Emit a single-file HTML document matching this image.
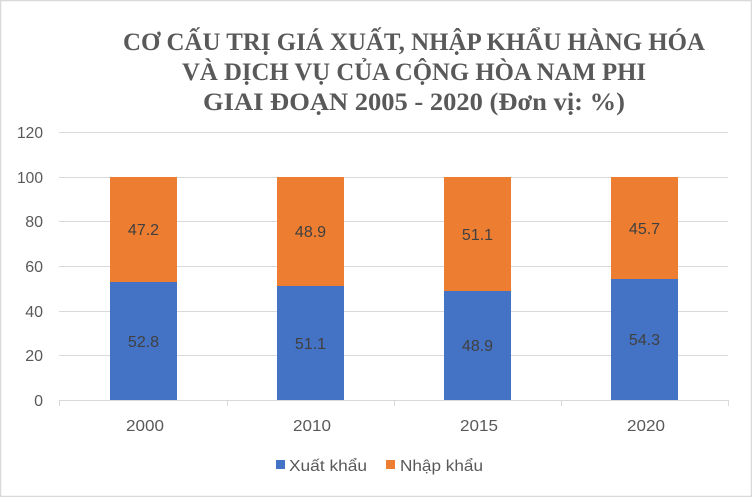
<!DOCTYPE html>
<html><head><meta charset="utf-8"><style>
html,body{margin:0;padding:0;background:#fff}
svg{display:block}
</style></head><body>
<svg width="752" height="497" viewBox="0 0 752 497" xmlns="http://www.w3.org/2000/svg">
<rect x="0.5" y="0.5" width="751" height="496" fill="#fff" stroke="#d9d9d9" stroke-width="1.5"/>
<g font-family="'Liberation Serif',serif" font-weight="bold" font-size="25" fill="#595959" text-anchor="middle">
<text x="414" y="50" textLength="582" lengthAdjust="spacingAndGlyphs">CƠ CẤU TRỊ GIÁ XUẤT, NHẬP KHẨU HÀNG HÓA</text>
<text x="414" y="80" textLength="464" lengthAdjust="spacingAndGlyphs">VÀ DỊCH VỤ CỦA CỘNG HÒA NAM PHI</text>
<text x="414" y="110" textLength="422" lengthAdjust="spacingAndGlyphs">GIAI ĐOẠN 2005 - 2020 (Đơn vị: %)</text>
</g>
<g stroke="#d9d9d9" stroke-width="1">
<line x1="59" x2="728" y1="132.5" y2="132.5"/>
<line x1="59" x2="728" y1="177.5" y2="177.5"/>
<line x1="59" x2="728" y1="221.5" y2="221.5"/>
<line x1="59" x2="728" y1="266.5" y2="266.5"/>
<line x1="59" x2="728" y1="311.5" y2="311.5"/>
<line x1="59" x2="728" y1="355.5" y2="355.5"/>
<line x1="59" x2="728" y1="400.5" y2="400.5"/>
<line x1="59.5" x2="59.5" y1="400" y2="406"/>
<line x1="227.5" x2="227.5" y1="400" y2="406"/>
<line x1="394.5" x2="394.5" y1="400" y2="406"/>
<line x1="561.5" x2="561.5" y1="400" y2="406"/>
<line x1="728.5" x2="728.5" y1="400" y2="406"/>
</g>
<g font-family="'Liberation Sans',sans-serif" font-size="16" fill="#595959" text-anchor="end">
<text x="43" y="138" textLength="26" lengthAdjust="spacingAndGlyphs">120</text><text x="43" y="183" textLength="26" lengthAdjust="spacingAndGlyphs">100</text><text x="43" y="227">80</text>
<text x="43" y="272">60</text><text x="43" y="317">40</text><text x="43" y="361">20</text><text x="43" y="406">0</text>
</g>
<g>
<rect x="110" y="282" width="67" height="118" fill="#4472c4"/><rect x="110" y="177" width="67" height="105" fill="#ed7d31"/>
<rect x="277" y="286" width="67" height="114" fill="#4472c4"/><rect x="277" y="177" width="67" height="109" fill="#ed7d31"/>
<rect x="444" y="291" width="67" height="109" fill="#4472c4"/><rect x="444" y="177" width="67" height="114" fill="#ed7d31"/>
<rect x="611" y="279" width="67" height="121" fill="#4472c4"/><rect x="611" y="177" width="67" height="102" fill="#ed7d31"/>
</g>
<g font-family="'Liberation Sans',sans-serif" font-size="16" fill="#404040" text-anchor="middle">
<text x="143.5" y="347">52.8</text><text x="143.5" y="235">47.2</text>
<text x="310.5" y="349">51.1</text><text x="310.5" y="237">48.9</text>
<text x="477.5" y="351">48.9</text><text x="477.5" y="240">51.1</text>
<text x="644.5" y="345">54.3</text><text x="644.5" y="234">45.7</text>
</g>
<g font-family="'Liberation Sans',sans-serif" font-size="16" fill="#595959" text-anchor="middle">
<text x="145" y="431" textLength="38" lengthAdjust="spacingAndGlyphs">2000</text><text x="312" y="431" textLength="38" lengthAdjust="spacingAndGlyphs">2010</text>
<text x="479" y="431" textLength="38" lengthAdjust="spacingAndGlyphs">2015</text><text x="646" y="431" textLength="38" lengthAdjust="spacingAndGlyphs">2020</text>
</g>
<rect x="276" y="460" width="9" height="9" fill="#4472c4"/>
<rect x="386" y="460" width="9" height="9" fill="#ed7d31"/>
<g font-family="'Liberation Sans',sans-serif" font-size="16" fill="#595959">
<text x="289" y="471" textLength="78" lengthAdjust="spacingAndGlyphs">Xuất khẩu</text>
<text x="400" y="471" textLength="83" lengthAdjust="spacingAndGlyphs">Nhập khẩu</text>
</g>
</svg>
</body></html>
